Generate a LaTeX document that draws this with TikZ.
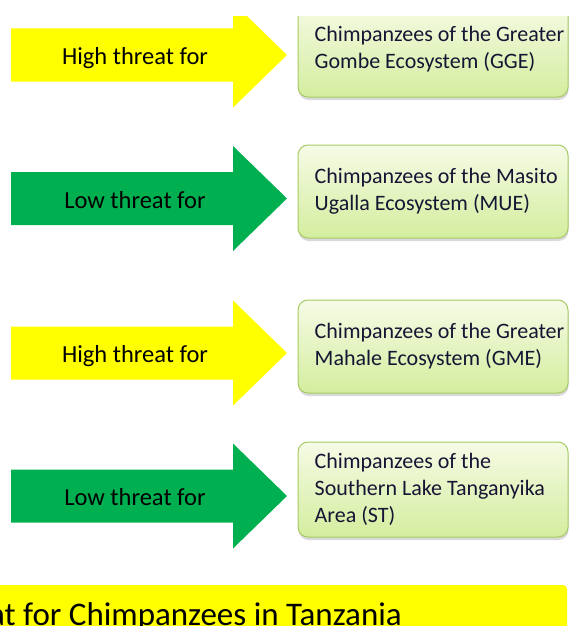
\documentclass[tikz,border=0pt]{standalone}
\usepackage{fontspec}
\setmainfont{Carlito}
\definecolor{threatyellow}{RGB}{255, 255, 0}
\definecolor{threatgreen}{RGB}{0, 176, 80}
\definecolor{boxtop}{RGB}{246, 251, 230}
\definecolor{boxbottom}{RGB}{212, 237, 158}
\definecolor{boxedge}{RGB}{166, 202, 100}
\definecolor{boxink}{RGB}{22, 22, 52}
\usetikzlibrary{positioning, shadows}

\tikzset{
  arrowtext/.style={anchor=base, inner sep=0pt, font=\fontsize{24.5}{29}\selectfont},
  ecobox/.style={rectangle, draw=boxedge, line width=1pt, rounded corners=10pt, top color=boxtop, bottom color=boxbottom, minimum width=270pt, minimum height=95pt, drop shadow={shadow xshift=0.5pt, shadow yshift=-3pt, opacity=0.3}},
  ecotext/.style={anchor=west, align=left, inner sep=0pt, text=boxink, font=\fontsize{22}{27}\selectfont},
  bannertext/.style={anchor=base west, inner sep=0pt, font=\fontsize{33}{38}\selectfont}
}
\newcommand{\threatarrow}[4]{%
  \fill[#2] (11,#1-26.5) -- (233,#1-26.5) -- (233,#1-52.5) -- (287,#1) -- (233,#1+52.5) -- (233,#1+26.5) -- (11,#1+26.5) -- cycle;
  \node[arrowtext] (#3) at (135,#1+9.5) {#4};}

\begin{document}
\begin{tikzpicture}[x=1pt, y=-1pt]
    \useasboundingbox (0,0) rectangle (569,626);
    \begin{scope}
        \clip (0,17) rectangle (569,626);
        \threatarrow{55}{threatyellow}{highgge}{High threat for}
        \threatarrow{198.5}{threatgreen}{lowmue}{Low threat for}
        \threatarrow{353}{threatyellow}{highgme}{High threat for}
        \threatarrow{496}{threatgreen}{lowst}{Low threat for}

        \node [ecobox] (gge) at (433,49.5) {};
        \node [ecobox, minimum height=93pt] (mue) at (433,191.5) {};
        \node [ecobox, minimum height=93pt] (gme) at (433,346.5) {};
        \node [ecobox] (st) at (433,489.5) {};
        \node [ecotext, right=17pt of gge.west] (ggetext) {Chimpanzees of the Greater\\Gombe Ecosystem (GGE)};
        \node [ecotext, right=17pt of mue.west] (muetext) {Chimpanzees of the Masito\\Ugalla Ecosystem (MUE)};
        \node [ecotext, right=17pt of gme.west] (gmetext) {Chimpanzees of the Greater\\Mahale Ecosystem (GME)};
        \node [ecotext, right=17pt of st.west] (sttext) {Chimpanzees of the\\Southern Lake Tanganyika\\Area (ST)};

        \fill [threatyellow, rounded corners=4pt] (-10,585) rectangle (567,660);
        \node [bannertext] (banner) at (-11,625) {at for Chimpanzees in Tanzania};
    \end{scope}
\end{tikzpicture}
\end{document}
